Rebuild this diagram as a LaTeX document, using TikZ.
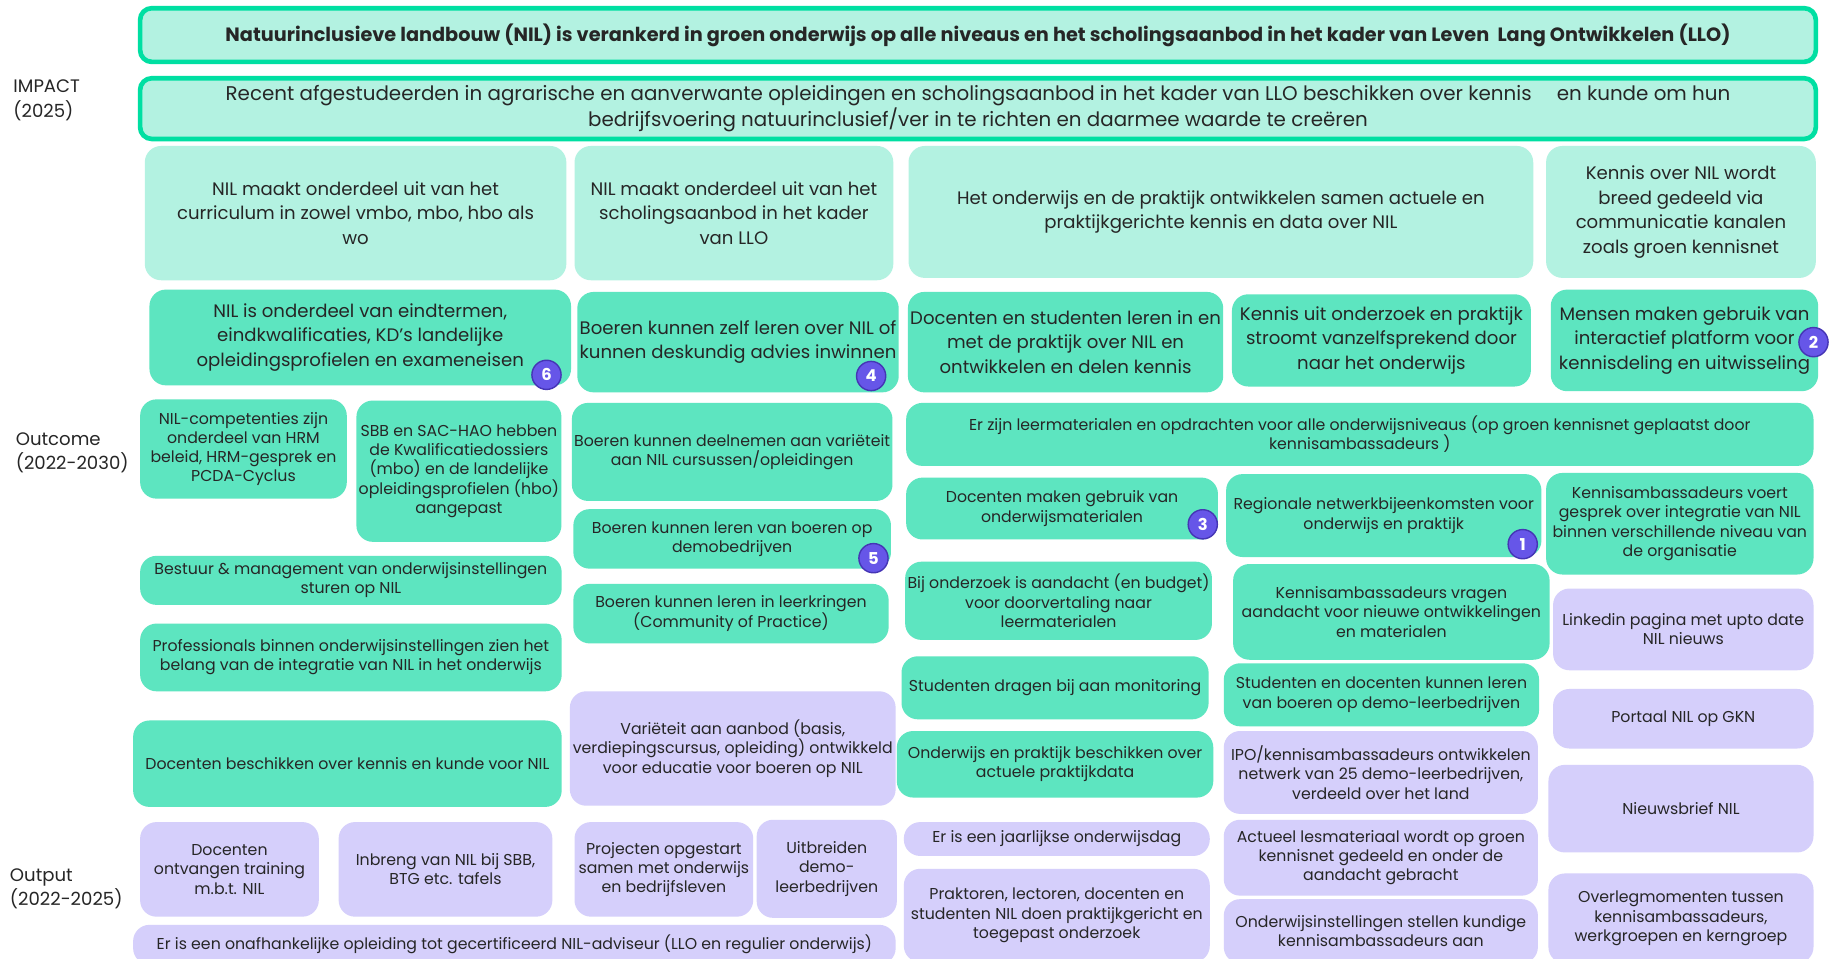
\documentclass[tikz,border=0pt]{standalone}
\usepackage{fontspec}
\setmainfont{Poppins}

\definecolor{mintlicht}{HTML}{B3F2E1}
\definecolor{nilgroen}{HTML}{5DE5C0}
\definecolor{rand}{HTML}{00DFA2}
\definecolor{lila}{HTML}{D5CFFB}
\definecolor{badgevul}{HTML}{6656E8}
\definecolor{badgerand}{HTML}{4535B5}
\definecolor{tekst}{HTML}{262626}

\tikzset{
  blok/.style={rounded corners=14pt, align=center, inner sep=2pt, text=tekst},
  wh/.style 2 args={minimum width=#1pt, minimum height=#2pt},
  mint/.style={blok, fill=mintlicht},
  groen/.style={blok, fill=nilgroen},
  paars/.style={blok, fill=lila},
  groot/.style={font=\fontsize{15.5}{21}\selectfont},
  klein/.style={font=\fontsize{13.5}{16.5}\selectfont},
  impact/.style={blok, rounded corners=10pt, draw=rand, line width=4pt, fill=mintlicht},
  badge/.style={circle, fill=badgevul, draw=badgerand, line width=1.2pt, minimum size=25pt,
    inner sep=0pt, text=white, font=\fontsize{14}{14}\selectfont\bfseries},
  niveau/.style={align=left, anchor=north west, text=tekst, font=\fontsize{15.5}{21}\selectfont}
}

\begin{document}
\begin{tikzpicture}[x=1pt, y=-1pt]
    \useasboundingbox[fill=white] (0,0) rectangle (1568,821);
    \clip (0,0) rectangle (1568,821);

    % niveaus
    \node[niveau] (lImpact) at (8,65) {IMPACT\\(2025)};
    \node[niveau] (lOutcome) at (10,367) {Outcome\\(2022-2030)};
    \node[niveau] (lOutput) at (5,740) {Output\\(2022-2025)};

    % impact
    \node[impact, wh={1435}{46}, font=\fontsize{16.5}{20}\selectfont\bfseries] (doel) at (837.5,30)
      {Natuurinclusieve landbouw (NIL) is verankerd in groen onderwijs op alle niveaus en het scholingsaanbod in het kader van Leven \ Lang Ontwikkelen (LLO)};
    \node[impact, wh={1435}{52}, font=\fontsize{17}{22}\selectfont] (impact) at (837.5,93)
      {Recent afgestudeerden in agrarische en aanverwante opleidingen en scholingsaanbod in het kader van LLO beschikken over kennis \quad en kunde om hun\\bedrijfsvoering natuurinclusief/ver in te richten en daarmee waarde te creëren};

    \node[mint, groot, wh={361}{115}] (curriculum) at (304.5,182.5)
      {NIL maakt onderdeel uit van het\\curriculum in zowel vmbo, mbo, hbo als\\wo};
    \node[mint, groot, wh={273}{115}] (scholing) at (628.5,182.5)
      {NIL maakt onderdeel uit van het\\scholingsaanbod in het kader\\van LLO};
    \node[mint, groot, wh={535}{113}] (samen) at (1045.5,181.5)
      {Het onderwijs en de praktijk ontwikkelen samen actuele en\\praktijkgerichte kennis en data over NIL};
    \node[mint, groot, wh={231}{113}] (gedeeld) at (1439.5,181.5)
      {Kennis over NIL wordt\\breed gedeeld via\\communicatie kanalen\\zoals groen kennisnet};

    % outcome
    \node[groen, groot, wh={361}{82}] (eindtermen) at (308.5,289)
      {NIL is onderdeel van eindtermen,\\eindkwalificaties, KD's landelijke\\opleidingsprofielen en exameneisen};
    \node[groen, groot, wh={272}{86}] (zelfleren) at (632,293)
      {Boeren kunnen zelf leren over NIL of\\kunnen deskundig advies inwinnen};
    \node[groen, groot, wh={269}{86}] (praktijk) at (912.5,293)
      {Docenten en studenten leren in en\\met de praktijk over NIL en\\ontwikkelen en delen kennis};
    \node[groen, groot, wh={256}{79}] (doorstroom) at (1183,291.5)
      {Kennis uit onderzoek en praktijk\\stroomt vanzelfsprekend door\\naar het onderwijs};
    \node[groen, groot, wh={229}{87}] (platform) at (1442.5,291.5)
      {Mensen maken gebruik van\\interactief platform voor\\kennisdeling en uitwisseling};

    \node[groen, klein, wh={177}{85}] (hrm) at (208.5,384.5)
      {NIL-competenties zijn\\onderdeel van HRM\\beleid, HRM-gesprek en\\PCDA-Cyclus};
    \node[groen, klein, wh={174}{121}] (sbb) at (393,403.5)
      {SBB en SAC-HAO hebben\\de Kwalificatiedossiers\\(mbo) en de landelijke\\opleidingsprofielen (hbo)\\aangepast};
    \node[groen, klein, wh={272}{84}] (cursus) at (627,387)
      {Boeren kunnen deelnemen aan variëteit\\aan NIL cursussen/opleidingen};
    \node[groen, klein, wh={777}{54}] (leermat) at (1164.5,372)
      {Er zijn leermaterialen en opdrachten voor alle onderwijsniveaus (op groen kennisnet geplaatst door\\kennisambassadeurs )};
    \node[groen, klein, wh={272}{51}] (demo) at (627,461.5)
      {Boeren kunnen leren van boeren op\\demobedrijven};
    \node[groen, klein, wh={267}{53}] (gebruik) at (909.5,435.5)
      {Docenten maken gebruik van\\onderwijsmaterialen};
    \node[groen, klein, wh={270}{71}] (regionaal) at (1185,441.5)
      {Regionale netwerkbijeenkomsten voor\\onderwijs en praktijk};
    \node[groen, klein, wh={229}{87}] (gesprek) at (1438.5,448.5)
      {Kennisambassadeurs voert\\gesprek over integratie van NIL\\binnen verschillende niveau van\\de organisatie};
    \node[groen, klein, wh={361}{42}] (bestuur) at (300.5,497)
      {Bestuur \& management van onderwijsinstellingen\\sturen op NIL};
    \node[groen, klein, wh={361}{58}] (belang) at (300.5,563)
      {Professionals binnen onderwijsinstellingen zien het\\belang van de integratie van NIL in het onderwijs};
    \node[groen, klein, wh={270}{51}] (leerkring) at (626,525.5)
      {Boeren kunnen leren in leerkringen\\(Community of Practice)};
    \node[groen, klein, wh={257}{67}] (budget) at (906.5,514.5)
      {Bij onderzoek is aandacht (en budget)\\voor doorvertaling naar\\leermaterialen};
    \node[groen, klein, wh={271}{82}] (vragen) at (1191.5,524)
      {Kennisambassadeurs vragen\\aandacht voor nieuwe ontwikkelingen\\en materialen};
    \node[groen, klein, wh={367}{74}] (kunde) at (297.5,654)
      {Docenten beschikken over kennis en kunde voor NIL};
    \node[groen, klein, wh={263}{54}] (monitoring) at (903.5,589)
      {Studenten dragen bij aan monitoring};
    \node[groen, klein, wh={270}{54}] (demoleren) at (1183,595)
      {Studenten en docenten kunnen leren\\van boeren op demo-leerbedrijven};
    \node[groen, klein, wh={271}{57}] (praktijkdata) at (903.5,654.5)
      {Onderwijs en praktijk beschikken over\\actuele praktijkdata};

    % output
    \node[paars, klein, wh={223}{70}] (linkedin) at (1441.5,539)
      {Linkedin pagina met upto date\\NIL nieuws};
    \node[paars, klein, wh={279}{98}] (aanbod) at (627.5,641)
      {Variëteit aan aanbod (basis,\\verdiepingscursus, opleiding) ontwikkeld\\voor educatie voor boeren op NIL};
    \node[paars, klein, wh={223}{51}] (portaal) at (1441.5,615.5)
      {Portaal NIL op GKN};
    \node[paars, klein, wh={269}{71}] (ipo) at (1182.5,661.5)
      {IPO/kennisambassadeurs ontwikkelen\\netwerk van 25 demo-leerbedrijven,\\verdeeld over het land};
    \node[paars, klein, wh={227}{75}] (nieuwsbrief) at (1439.5,692.5)
      {Nieuwsbrief NIL};
    \node[paars, klein, wh={153}{81}] (training) at (196.5,744.5)
      {Docenten\\ontvangen training\\m.b.t. NIL};
    \node[paars, klein, wh={183}{81}] (inbreng) at (381.5,744.5)
      {Inbreng van NIL bij SBB,\\BTG etc. tafels};
    \node[paars, klein, wh={153}{81}] (projecten) at (568.5,744.5)
      {Projecten opgestart\\samen met onderwijs\\en bedrijfsleven};
    \node[paars, klein, wh={120}{84}] (uitbreiden) at (708,744)
      {Uitbreiden\\demo-\\leerbedrijven};
    \node[paars, klein, wh={262}{29}] (onderwijsdag) at (905,718.5)
      {Er is een jaarlijkse onderwijsdag};
    \node[paars, klein, wh={262}{80}] (onderzoek) at (905,784)
      {Praktoren, lectoren, docenten en\\studenten NIL doen praktijkgericht en\\toegepast onderzoek};
    \node[paars, klein, wh={269}{65}] (lesmateriaal) at (1182.5,734.5)
      {Actueel lesmateriaal wordt op groen\\kennisnet gedeeld en onder de\\aandacht gebracht};
    \node[paars, klein, wh={269}{55}] (kundig) at (1182.5,797.5)
      {Onderwijsinstellingen stellen kundige\\kennisambassadeurs aan};
    \node[paars, klein, wh={227}{77}] (overleg) at (1439.5,786.5)
      {Overlegmomenten tussen\\kennisambassadeurs,\\werkgroepen en kerngroep};
    \node[paars, klein, wh={653}{34}] (adviseur) at (440.5,809)
      {Er is een onafhankelijke opleiding tot gecertificeerd NIL-adviseur (LLO en regulier onderwijs)};

    % nummers
    \node[badge] (n1) at (1304,466) {1};
    \node[badge] (n2) at (1553,293) {2};
    \node[badge] (n3) at (1030,449) {3};
    \node[badge] (n4) at (746,322) {4};
    \node[badge] (n5) at (748,478) {5};
    \node[badge] (n6) at (468,321) {6};
\end{tikzpicture}
\end{document}
